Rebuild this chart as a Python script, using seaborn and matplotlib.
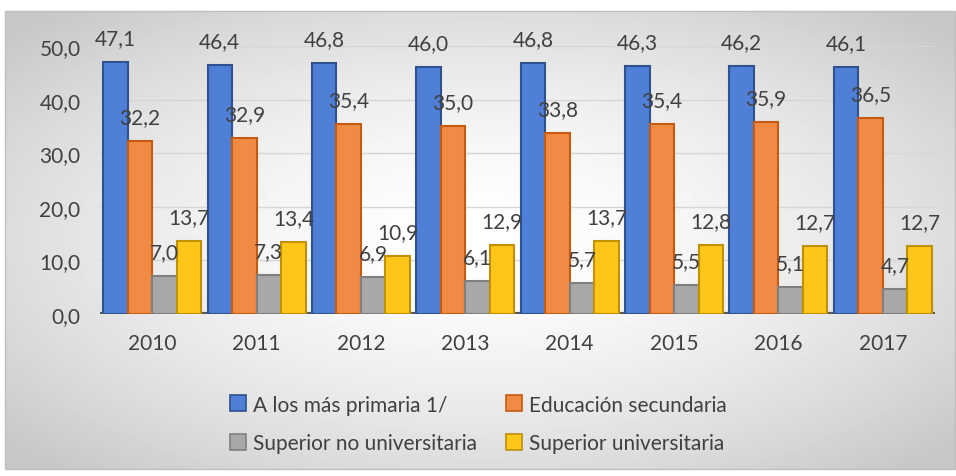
import numpy as np
import pandas as pd
import seaborn as sns
import matplotlib.pyplot as plt
from matplotlib.patches import Rectangle, Patch

# Data
years = ['2010', '2011', '2012', '2013', '2014', '2015', '2016', '2017']
primaria = [47.1, 46.4, 46.8, 46.0, 46.8, 46.3, 46.2, 46.1]
secundaria = [32.2, 32.9, 35.4, 35.0, 33.8, 35.4, 35.9, 36.5]
sup_no_univ = [7.0, 7.3, 6.9, 6.1, 5.7, 5.5, 5.1, 4.7]
sup_univ = [13.7, 13.4, 10.9, 12.9, 13.7, 12.8, 12.7, 12.7]
series_names = ['A los más primaria 1/', 'Educación secundaria',
                'Superior no universitaria', 'Superior universitaria']
y_ticks = [0, 10, 20, 30, 40, 50]

colors = ['#4F7FD6', '#F08A45', '#A8A8A8', '#FFC61A']
edges = ['#2F528F', '#C55A11', '#7F7F7F', '#BF9000']

df = pd.DataFrame({
    'year': years * 4,
    'nivel': np.repeat(series_names, len(years)),
    'pct': primaria + secundaria + sup_no_univ + sup_univ,
})

sns.set_theme(style="white")
plt.rcParams['font.family'] = ['Lato', 'DejaVu Sans']

fig = plt.figure(figsize=(9.56, 4.77), dpi=100)
fig.patch.set_facecolor('white')

# gradient background of the chart area
bg = fig.add_axes([5 / 956, 1 - 470 / 477, 950 / 956, 458 / 477], zorder=-2)
gx, gy = np.meshgrid(np.linspace(-1, 1, 300), np.linspace(-1, 1, 150))
r = np.clip(np.sqrt(gx ** 2 + gy ** 2) / 1.35, 0, 1)
grad = 1.0 - 0.22 * r ** 1.6
bg.imshow(grad, cmap='gray', vmin=0, vmax=1, aspect='auto', extent=[0, 1, 0, 1])
bg.set_axis_off()
fig.patches.append(Rectangle((5 / 956, 1 - 470 / 477), 950 / 956, 458 / 477,
                             transform=fig.transFigure, fill=False,
                             edgecolor='#bfbfbf', lw=1, zorder=5))

ax = fig.add_axes([100 / 956, 162 / 477, 835 / 956, 268 / 477])
ax.set_facecolor('none')

sns.barplot(data=df, x='year', y='pct', hue='nivel', hue_order=series_names,
            palette=colors, saturation=1, width=0.94, gap=0, ax=ax, legend=False,
            linewidth=1.5, zorder=3)

for cont, ec in zip(ax.containers, edges):
    for p in cont:
        p.set_edgecolor(ec)
    ax.bar_label(cont, labels=[f'{v:.1f}'.replace('.', ',') for v in cont.datavalues],
                 padding=10, fontsize=15, color='#404040', clip_on=False, zorder=6)

ax.set_ylim(0, 50)
ax.set_yticks(y_ticks)
ax.set_yticklabels([f'{v:.1f}'.replace('.', ',') for v in y_ticks])
ax.set_xlabel('')
ax.set_ylabel('')
ax.tick_params(axis='both', labelsize=15, colors='#404040', length=0)
ax.tick_params(axis='y', pad=14)
ax.tick_params(axis='x', pad=14)
ax.yaxis.grid(True, color='#d6d6d6', lw=1, zorder=0)
ax.xaxis.grid(False)
for s in ax.spines.values():
    s.set_visible(False)
ax.axhline(0, color='#595959', lw=3, zorder=2)

handles = [Patch(facecolor=c, edgecolor=e, lw=1.2) for c, e in zip(colors, edges)]
order = [0, 2, 1, 3]
fig.legend([handles[i] for i in order], [series_names[i] for i in order],
           ncol=2, loc='center', bbox_to_anchor=(478 / 956, 1 - 425 / 477),
           frameon=False, fontsize=15, handlelength=0.8, handleheight=0.8,
           handletextpad=0.3, columnspacing=1.4, labelspacing=0.9,
           labelcolor='#404040')

fig.savefig('out.png', dpi=100)
